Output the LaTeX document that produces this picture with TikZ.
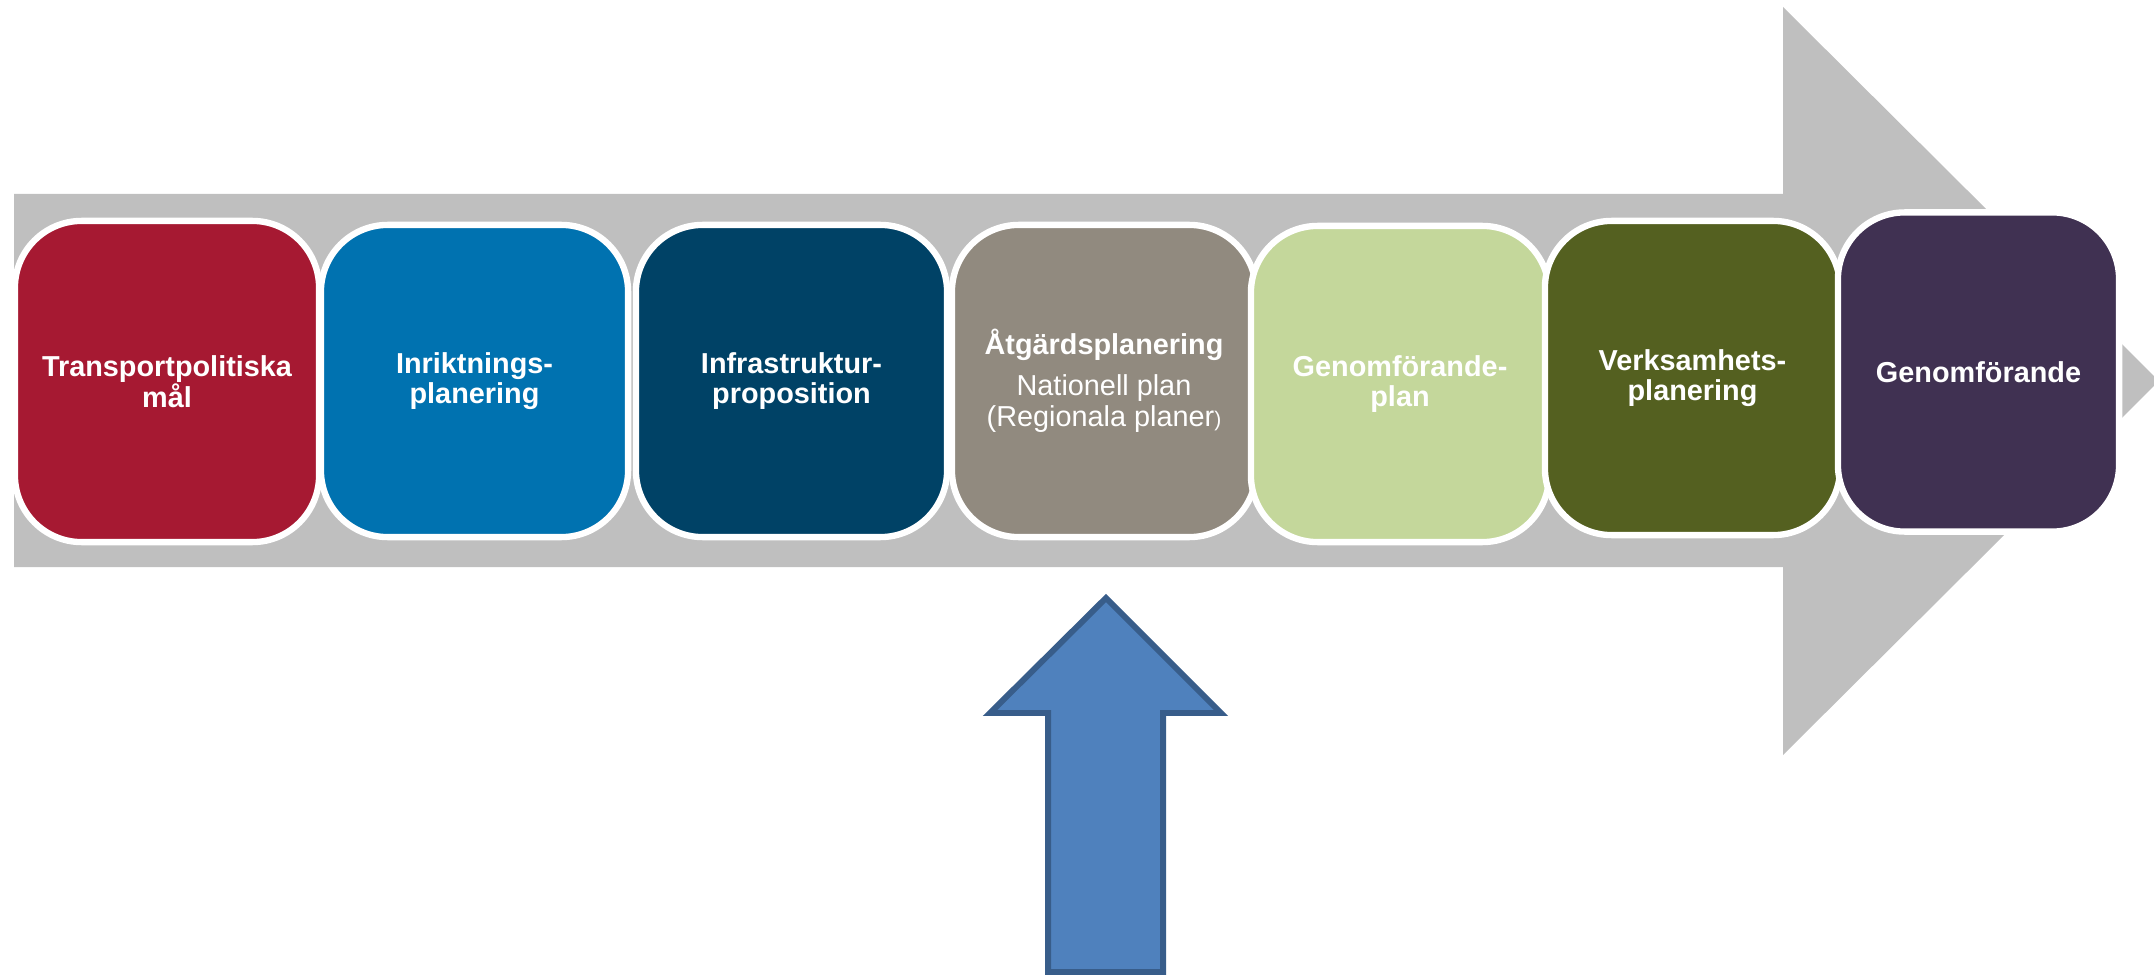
\documentclass[tikz,border=0pt]{standalone}
\usepackage{fontspec}
\setmainfont{Liberation Sans}
\definecolor{flowgray}{RGB}{191, 191, 191}
\definecolor{goalred}{RGB}{166, 25, 50}
\definecolor{dirblue}{RGB}{0, 114, 176}
\definecolor{propnavy}{RGB}{0, 66, 102}
\definecolor{taupe}{RGB}{145, 138, 127}
\definecolor{paleleaf}{RGB}{196, 215, 155}
\definecolor{olive}{RGB}{84, 96, 32}
\definecolor{plum}{RGB}{64, 49, 82}
\definecolor{arrowblue}{RGB}{79, 129, 189}
\definecolor{arrowedge}{RGB}{56, 93, 138}
\usepackage{tikz}

\begin{document}
\begin{tikzpicture}[x=0.01cm, y=-0.01cm,
    stage/.style={draw=white, line width=1.8pt, rounded corners=19pt,
        text=white, align=center, inner sep=2pt,
        font=\fontsize{8.2}{8.7}\selectfont\bfseries}]
    \useasboundingbox (0,0) rectangle (2154,979);

    % the grey process arrow behind the boxes
    \fill[flowgray] (14,194) -- (1783,194) -- (1783,7) -- (2159,381)
        -- (1783,755) -- (1783,567) -- (14,567) -- cycle;

    % the seven stages, left to right
    \node[stage, fill=goalred, minimum width=3.04cm, minimum height=3.21cm] (goals) at (167,381.5)
        {Transportpolitiska\\mål};
    \node[stage, fill=dirblue, minimum width=3.07cm, minimum height=3.12cm] (direction) at (474.5,381)
        {Inriktnings-\\planering};
    \node[stage, fill=propnavy, minimum width=3.11cm, minimum height=3.12cm] (proposition) at (791.5,381)
        {Infrastruktur-\\proposition};
    \node[stage, fill=taupe, minimum width=3.04cm, minimum height=3.12cm] (measures) at (1104,381)
        {Åtgärdsplanering\\[3pt]
         \mdseries Nationell plan\\
         \mdseries (Regionala planer{\fontsize{6}{6}\selectfont)}};
    \node[stage, fill=paleleaf, minimum width=2.98cm, minimum height=3.16cm] (implplan) at (1400,384)
        {Genomförande-\\plan};
    \node[stage, fill=olive, minimum width=2.95cm, minimum height=3.14cm] (business) at (1692.5,378)
        {Verksamhets-\\planering};
    \node[stage, fill=plum, minimum width=2.81cm, minimum height=3.19cm] (execution) at (1978.5,372)
        {Genomförande};

    % input arrow from below
    \draw[fill=arrowblue, draw=arrowedge, line width=1.7pt, line join=miter]
        (1106,598) -- (1221,713) -- (1163,713) -- (1163,972)
        -- (1048,972) -- (1048,713) -- (990,713) -- cycle;
\end{tikzpicture}
\end{document}
